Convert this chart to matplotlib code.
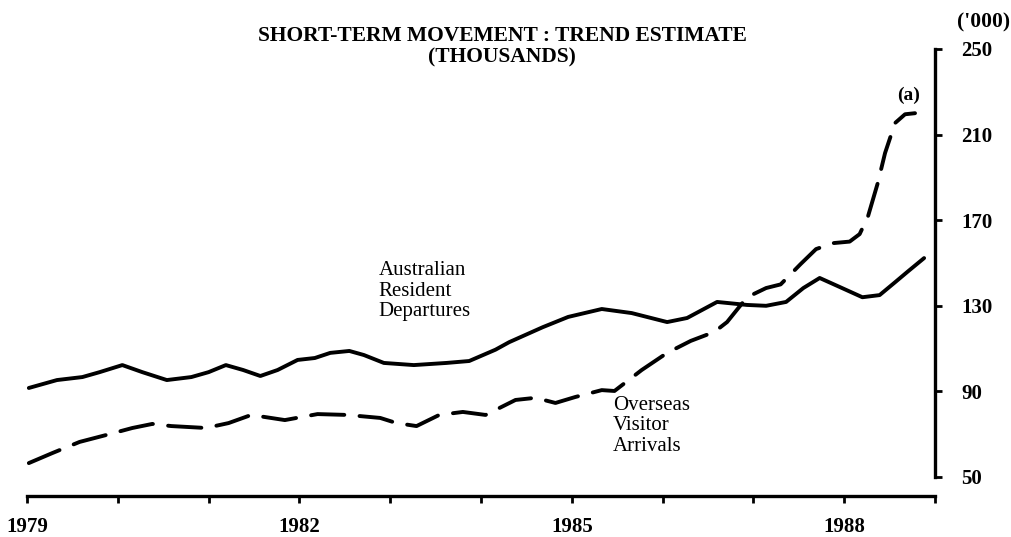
import matplotlib.pyplot as plt

plt.rcParams['font.family'] = ['Liberation Serif', 'DejaVu Serif']
plt.rcParams['lines.scale_dashes'] = False

# Australian Resident Departures (solid)
dep_year = [1979.02, 1979.33, 1979.61, 1979.80, 1980.05, 1980.27, 1980.54, 1980.81,
            1981.00, 1981.19, 1981.38, 1981.57, 1981.76, 1981.98, 1982.17, 1982.34,
            1982.55, 1982.71, 1982.93, 1983.26, 1983.62, 1983.87, 1984.16, 1984.31,
            1984.68, 1984.96, 1985.33, 1985.66, 1986.05, 1986.27, 1986.60, 1986.93,
            1987.14, 1987.36, 1987.55, 1987.73, 1987.95, 1988.20, 1988.39, 1988.56,
            1988.70, 1988.88]
dep_value = [91.6, 95.3, 96.7, 99.0, 102.3, 99.0, 95.3, 96.7,
             99.0, 102.3, 100.0, 97.2, 100.0, 104.7, 105.6, 108.0,
             108.9, 107.0, 103.3, 102.3, 103.3, 104.2, 109.5, 113.0,
             120.0, 124.8, 128.5, 126.6, 122.4, 124.3, 131.8, 130.4,
             130.0, 131.8, 138.3, 143.0, 138.8, 134.0, 135.0, 141.0,
             146.0, 152.3]

# Overseas Visitor Arrivals (dashed)
arr_year = [1979.02, 1979.28, 1979.58, 1979.87, 1980.16, 1980.38, 1980.59, 1980.97,
            1981.22, 1981.47, 1981.84, 1982.20, 1982.53, 1982.89, 1983.07, 1983.29,
            1983.54, 1983.80, 1984.05, 1984.38, 1984.60, 1984.82, 1985.04, 1985.33,
            1985.47, 1985.77, 1986.05, 1986.31, 1986.57, 1986.71, 1986.93, 1987.14,
            1987.30, 1987.52, 1987.69, 1987.88, 1988.06, 1988.17, 1988.26, 1988.37,
            1988.45, 1988.56, 1988.67, 1988.78]
arr_value = [56.5, 61.2, 66.4, 69.6, 72.9, 74.8, 73.8, 72.9,
             75.2, 79.0, 76.6, 79.4, 79.0, 77.6, 75.2, 73.8,
             79.0, 80.4, 79.0, 86.0, 87.0, 84.6, 87.4, 90.6,
             90.2, 100.0, 108.0, 113.6, 117.8, 122.4, 134.0, 138.3,
             140.0, 149.5, 156.5, 159.3, 160.0, 163.5, 171.5, 187.4,
             201.4, 215.4, 219.5, 220.0]

year_ticks = list(range(1979, 1990))
year_labels = ['1979', '', '', '1982', '', '', '1985', '', '', '1988', '']
value_ticks = [50, 90, 130, 170, 210, 250]

fig = plt.figure(figsize=(10.12, 5.37), dpi=100)
ax = fig.add_axes([27 / 1012, 60 / 537, 908 / 1012, 428 / 537])

ax.plot(dep_year, dep_value, color='black', lw=2.8, solid_capstyle='round',
        solid_joinstyle='round')
ax.plot(arr_year, arr_value, color='black', lw=2.8, dashes=(24, 11),
        dash_capstyle='round', dash_joinstyle='round')

ax.set_xlim(1979, 1989)
ax.set_ylim(50, 250)

for s in ['left', 'top']:
    ax.spines[s].set_visible(False)
ax.spines['bottom'].set_position(('outward', 14))
ax.spines['bottom'].set_linewidth(2.4)
ax.spines['right'].set_linewidth(2.4)

ax.set_xticks(year_ticks)
ax.set_xticklabels(year_labels, fontsize=15, fontweight='bold')
ax.tick_params(axis='x', direction='out', length=5, width=2, pad=10)

ax.yaxis.tick_right()
ax.set_yticks(value_ticks)
ax.set_yticklabels([str(v) for v in value_ticks], fontsize=15, fontweight='bold')
ax.tick_params(axis='y', direction='out', length=5, width=2, pad=14)

fig.text(0.496, 0.933, 'SHORT-TERM MOVEMENT : TREND ESTIMATE', ha='center', va='center',
         fontsize=15.5, fontweight='bold')
fig.text(0.496, 0.893, '(THOUSANDS)', ha='center', va='center',
         fontsize=15.5, fontweight='bold')
fig.text(0.972, 0.959, "('000)", ha='center', va='center', fontsize=15.5, fontweight='bold')

ax.text(1982.87, 151.0, 'Australian\nResident\nDepartures', fontsize=15, va='top',
        ha='left', linespacing=1.12)
ax.text(1985.45, 88.0, 'Overseas\nVisitor\nArrivals', fontsize=15, va='top',
        ha='left', linespacing=1.12)
ax.text(1988.71, 228.5, '(a)', fontsize=14, fontweight='bold', ha='center', va='center')

fig.savefig('out.png', dpi=100)
